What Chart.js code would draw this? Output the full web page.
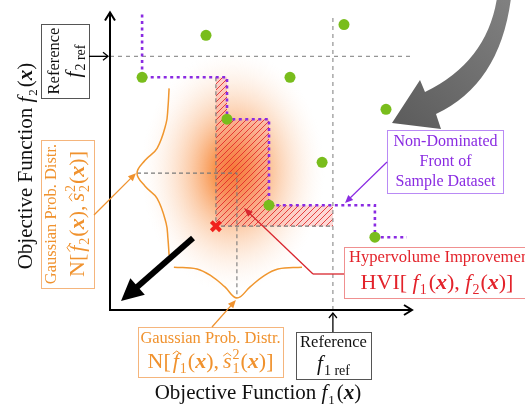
<!DOCTYPE html>
<html>
<head>
<meta charset="utf-8">
<script src="https://cdn.jsdelivr.net/npm/chart.js@4/dist/chart.umd.min.js"></script>
<style>
  html, body { margin: 0; padding: 0; background: #fff; overflow: hidden; }
  #wrap { position: relative; width: 525px; height: 404px; }
</style>
</head>
<body>
<div id="wrap"><canvas id="c"></canvas></div>
<script>
// Non-dominated front of the sample dataset (f1, f2)
const frontF1 = [1.07, 3.9, 5.3, 8.83];
const frontF2 = [7.77, 6.37, 3.5, 2.43];
// Dominated samples
const otherF1 = [3.2, 7.8, 6.0, 9.2, 7.07];
const otherF2 = [9.17, 9.53, 7.77, 6.7, 4.93];
// Reference point
const refF1 = 7.43;
const refF2 = 8.47;
// Candidate design and its predicted mean
const candF1 = 3.53;
const candF2 = 2.8;
const meanF1 = 4.23;
const meanF2 = 4.57;
// Predictive density of f2 (drawn along the f2 direction)
const densF2CurveF1 = [1.97, 1.93, 1.87, 1.57, 1.17, 0.9, 1.17, 1.57, 1.87, 1.93, 1.97];
const densF2CurveF2 = [7.4, 6.73, 6.23, 5.4, 5.0, 4.57, 4.13, 3.73, 2.9, 2.4, 1.83];
// Predictive density of f1 (drawn along the f1 direction)
const densF1CurveF1 = [2.13, 2.9, 3.43, 3.83, 4.23, 4.67, 5.07, 5.6, 6.4];
const densF1CurveF2 = [1.43, 1.37, 1.1, 0.77, 0.4, 0.77, 1.1, 1.37, 1.43];
// Extents of the front staircase and reference guides
const frontTop = 9.87, frontRight = 9.9;
const refLineF1End = 10.07, refLineF2End = 9.77;

const SERIF = '"Liberation Serif", "Times New Roman", serif';
const pts = (xs, ys) => xs.map((x, i) => ({ x, y: ys[i] }));

// Staircase through the non-dominated points
const stairs = [{ x: frontF1[0], y: frontTop }];
for (let i = 0; i < frontF1.length; i++) {
  stairs.push({ x: frontF1[i], y: frontF2[i] });
  stairs.push({ x: i < frontF1.length - 1 ? frontF1[i + 1] : frontRight, y: frontF2[i] });
}

// Region newly dominated by the candidate (bounded by the reference point)
const hvi = [{ x: candF1, y: frontF2[0] }];
let lastF2 = frontF2[0];
for (let i = 1; i < frontF1.length; i++) {
  if (frontF1[i] >= refF1) break;
  hvi.push({ x: frontF1[i], y: lastF2 });
  hvi.push({ x: frontF1[i], y: frontF2[i] });
  lastF2 = frontF2[i];
}
hvi.push({ x: refF1, y: lastF2 }, { x: refF1, y: candF2 }, { x: candF1, y: candF2 }, { x: candF1, y: frontF2[0] });

const peakF1 = Math.min(...densF2CurveF1);
const peakF2 = Math.min(...densF1CurveF2);

function hatchPattern(ctx) {
  const s = 6, c = document.createElement('canvas');
  c.width = s; c.height = s;
  const g = c.getContext('2d');
  g.fillStyle = 'rgba(250,130,120,0.30)';
  g.fillRect(0, 0, s, s);
  g.strokeStyle = 'rgba(226,40,40,0.85)';
  g.lineWidth = 1;
  g.beginPath();
  g.moveTo(0, s); g.lineTo(s, 0);
  g.moveTo(-1, 1); g.lineTo(1, -1);
  g.moveTo(s - 1, s + 1); g.lineTo(s + 1, s - 1);
  g.stroke();
  return ctx.createPattern(c, 'repeat');
}

// ---------- text helpers ----------
function measureRuns(ctx, runs) {
  let w = 0;
  for (const r of runs) {
    ctx.font = r.f;
    r._w = ctx.measureText(r.t).width;
    r._sw = 0;
    if (r.sub || r.sup) {
      ctx.font = r.sf;
      r._sw = Math.max(r.sub ? ctx.measureText(r.sub).width : 0, r.sup ? ctx.measureText(r.sup).width : 0) + 1;
    }
    w += r._w + r._sw + (r.gap || 0);
  }
  return w;
}
function drawRuns(ctx, runs, x, y, color, align) {
  const w = measureRuns(ctx, runs);
  let cx = align === 'left' ? x : x - w / 2;
  ctx.fillStyle = color; ctx.strokeStyle = color;
  ctx.textAlign = 'left'; ctx.textBaseline = 'alphabetic';
  for (const r of runs) {
    ctx.font = r.f;
    ctx.fillText(r.t, cx, y + (r.dy || 0));
    if (r.hat) {
      const hx = cx + r._w / 2 + (r.hatShift || 0), hy = y - r.hat;
      ctx.lineWidth = 1;
      ctx.beginPath();
      ctx.moveTo(hx - 4, hy + 3); ctx.lineTo(hx, hy); ctx.lineTo(hx + 4, hy + 3);
      ctx.stroke();
    }
    cx += r._w;
    if (r.sub || r.sup) {
      ctx.font = r.sf;
      if (r.sub) ctx.fillText(r.sub, cx + 1, y + r.subDy);
      if (r.sup) ctx.fillText(r.sup, cx + 1, y - r.supDy);
      cx += r._sw;
    }
    cx += (r.gap || 0);
  }
}
function drawRunsRot(ctx, runs, bx, cy, color) {
  ctx.save();
  ctx.translate(bx, cy);
  ctx.rotate(-Math.PI / 2);
  drawRuns(ctx, runs, 0, 0, color);
  ctx.restore();
}
function arrow(ctx, x1, y1, x2, y2, o) {
  const a = Math.atan2(y2 - y1, x2 - x1), L = o.head, W = o.headW / 2;
  ctx.save();
  ctx.strokeStyle = o.color; ctx.fillStyle = o.color; ctx.lineWidth = o.width;
  ctx.lineCap = 'butt';
  const bx = x2 - Math.cos(a) * L * (o.filled ? 0.8 : 0), by = y2 - Math.sin(a) * L * (o.filled ? 0.8 : 0);
  ctx.beginPath(); ctx.moveTo(x1, y1); ctx.lineTo(bx, by); ctx.stroke();
  const px = -Math.sin(a), py = Math.cos(a);
  const hx = x2 - Math.cos(a) * L, hy = y2 - Math.sin(a) * L;
  ctx.beginPath();
  ctx.moveTo(hx + px * W, hy + py * W);
  ctx.lineTo(x2, y2);
  ctx.lineTo(hx - px * W, hy - py * W);
  if (o.filled) { ctx.closePath(); ctx.fill(); } else { ctx.stroke(); }
  ctx.restore();
}
function box(ctx, x, y, w, h, stroke) {
  ctx.save();
  ctx.fillStyle = '#fff';
  ctx.fillRect(x, y, w, h);
  ctx.strokeStyle = stroke; ctx.lineWidth = 1;
  ctx.strokeRect(x + 0.5, y + 0.5, w, h);
  ctx.restore();
}

const R = s => `${s}px ${SERIF}`;
const I = s => `italic ${s}px ${SERIF}`;
const BI = s => `bold italic ${s}px ${SERIF}`;

function gaussLabel(k, s) {
  return [
    { t: 'N[', f: R(s), gap: 2 },
    { t: 'f', f: I(s), hat: 17, hatShift: 1, sub: k, sf: R(14), subDy: 5, gap: 1 },
    { t: '(', f: R(s) }, { t: 'x', f: BI(s) }, { t: '),', f: R(s), gap: 4 },
    { t: 's', f: I(s), hat: 15, sub: k, sup: '2', sf: R(14), subDy: 5, supDy: 9, gap: 1 },
    { t: '(', f: R(s) }, { t: 'x', f: BI(s) }, { t: ')]', f: R(s) }
  ];
}
function funcLabel(k, s, sub) {
  return [
    { t: 'f', f: I(s), sub: k, sf: R(sub), subDy: 5, gap: 2 },
    { t: '(', f: R(s) }, { t: 'x', f: BI(s) }, { t: ')', f: R(s) }
  ];
}

// Orange predictive cloud around the mean
const cloud = {
  id: 'cloud',
  beforeDatasetsDraw(chart) {
    const { ctx, scales: { x, y } } = chart;
    const cx = x.getPixelForValue(meanF1) - 4, cy = y.getPixelForValue(meanF2) - 2;
    ctx.save();
    ctx.translate(cx, cy);
    ctx.scale(1, 1.32);
    const r = 92;
    const g = ctx.createRadialGradient(0, 0, 0, 0, 0, r);
    g.addColorStop(0, 'rgba(244,108,16,0.95)');
    g.addColorStop(0.2, 'rgba(246,126,40,0.82)');
    g.addColorStop(0.45, 'rgba(249,160,95,0.55)');
    g.addColorStop(0.7, 'rgba(251,196,155,0.30)');
    g.addColorStop(0.88, 'rgba(253,222,200,0.12)');
    g.addColorStop(1, 'rgba(255,240,230,0)');
    ctx.fillStyle = g;
    ctx.beginPath(); ctx.arc(0, 0, r, 0, Math.PI * 2); ctx.fill();
    ctx.restore();
  }
};

// Axes, callouts and labels
const notes = {
  id: 'notes',
  afterDatasetsDraw(chart) {
    const { ctx, chartArea: a, scales: { x, y } } = chart;
    const X = v => x.getPixelForValue(v), Y = v => y.getPixelForValue(v);

    // axes
    arrow(ctx, a.left, a.bottom + 1, a.left, a.top + 2, { color: '#000', width: 2, head: 8, headW: 10 });
    arrow(ctx, a.left - 1, a.bottom, a.right + 2, a.bottom, { color: '#000', width: 2, head: 8, headW: 10 });

    // big black arrow
    arrow(ctx, 193, 238, 121, 301, { color: '#000', width: 6, head: 22, headW: 22, filled: true });

    // curved gray arrow
    ctx.save();
    const gg = ctx.createLinearGradient(505, 0, 395, 125);
    gg.addColorStop(0, '#808080'); gg.addColorStop(1, '#5c5c5c');
    ctx.fillStyle = gg;
    ctx.beginPath();
    ctx.moveTo(497, -2);
    ctx.quadraticCurveTo(487, 62, 425, 92);
    ctx.lineTo(420, 80);
    ctx.lineTo(392, 123);
    ctx.lineTo(441, 129);
    ctx.lineTo(436, 114);
    ctx.quadraticCurveTo(500, 84, 511, -2);
    ctx.closePath();
    ctx.fill();
    ctx.restore();

    // reference f2 box
    box(ctx, 41, 24, 48, 74, '#555');
    drawRunsRot(ctx, [{ t: 'Reference', f: R(16.5) }], 59, 61, '#111');
    drawRunsRot(ctx, [{ t: 'f', f: I(21), sub: '2 ref', sf: R(14), subDy: 5, gap: 0 }], 80, 61, '#111');
    arrow(ctx, 89, Y(refF2), a.left - 2, Y(refF2), { color: '#000', width: 1.3, head: 5, headW: 8 });

    // reference f1 box
    box(ctx, 296, 332, 75, 47, '#555');
    drawRuns(ctx, [{ t: 'Reference', f: R(16.5) }], 333.5, 347, '#111');
    drawRuns(ctx, [{ t: 'f', f: I(21), sub: '1 ref', sf: R(14), subDy: 5 }], 333.5, 370, '#111');
    arrow(ctx, X(refF1), 332, X(refF1), a.bottom + 3, { color: '#000', width: 1.3, head: 5, headW: 8 });

    // Gaussian callouts
    const orange = '#f0922e';
    box(ctx, 41, 140, 53, 148, '#f5b57c');
    drawRunsRot(ctx, [{ t: 'Gaussian Prob. Distr.', f: R(16.5) }], 56, 214, orange);
    drawRunsRot(ctx, gaussLabel('2', 22), 84, 214, orange);
    arrow(ctx, 94, 215, X(peakF1) - 1, Y(meanF2), { color: orange, width: 1.3, head: 8, headW: 7, filled: true });

    box(ctx, 138, 327, 145, 50, '#f5b57c');
    drawRuns(ctx, [{ t: 'Gaussian Prob. Distr.', f: R(16.5) }], 210.5, 343, orange);
    drawRuns(ctx, gaussLabel('1', 22), 210.5, 368, orange);
    arrow(ctx, 212, 327, X(meanF1) - 1, Y(peakF2) + 2, { color: orange, width: 1.3, head: 8, headW: 7, filled: true });

    // front callout
    const purple = '#8a2be2';
    box(ctx, 387, 130, 116, 63, '#b98af5');
    drawRuns(ctx, [{ t: 'Non-Dominated', f: R(16) }], 445.5, 146, purple);
    drawRuns(ctx, [{ t: 'Front of', f: R(16) }], 445.5, 166, purple);
    drawRuns(ctx, [{ t: 'Sample Dataset', f: R(16) }], 445.5, 186, purple);
    arrow(ctx, 387, 162, 345, 203, { color: purple, width: 1.2, head: 8, headW: 7, filled: true });

    // hypervolume callout
    const red = '#e3232b';
    box(ctx, 344, 247, 200, 51, '#f09090');
    drawRuns(ctx, [{ t: 'Hypervolume Improvement', f: R(16.6) }], 349, 262, red, 'left');
    drawRuns(ctx, [
      { t: 'HVI[ ', f: R(22) },
      { t: 'f', f: I(22), sub: '1', sf: R(14), subDy: 5, gap: 2 },
      { t: '(', f: R(22) }, { t: 'x', f: BI(22) }, { t: '), ', f: R(22) },
      { t: 'f', f: I(22), sub: '2', sf: R(14), subDy: 5, gap: 1 },
      { t: '(', f: R(22) }, { t: 'x', f: BI(22) }, { t: ')]', f: R(22) }
    ], 437, 289, red);
    ctx.save();
    ctx.strokeStyle = '#d8262e'; ctx.lineWidth = 1.3;
    ctx.beginPath(); ctx.moveTo(344, 274); ctx.lineTo(313, 274); ctx.stroke();
    ctx.restore();
    arrow(ctx, 313, 274, 244, 208, { color: '#d8262e', width: 1.3, head: 9, headW: 7, filled: true });

    // axis titles
    drawRuns(ctx, [{ t: 'Objective Function ', f: R(21) }].concat(funcLabel('1', 21, 13)), 258, 399, '#111');
    drawRunsRot(ctx, [{ t: 'Objective Function ', f: R(21) }].concat(funcLabel('2', 21, 13)), 32, 166, '#111');
  }
};

const ctx = document.getElementById('c').getContext('2d');
const dashGray = '#7a7a7a';

new Chart(ctx, {
  type: 'scatter',
  data: {
    datasets: [
      { label: 'candidate', data: [{ x: candF1, y: candF2 }], pointStyle: 'crossRot', pointRadius: 6.5,
        borderColor: '#f0201c', borderWidth: 4, backgroundColor: '#f0201c', order: 1 },
      { label: 'non-dominated', data: pts(frontF1, frontF2), pointRadius: 5.5, pointBorderWidth: 0,
        backgroundColor: '#79bd1c', borderColor: '#79bd1c', order: 2 },
      { label: 'dominated', data: pts(otherF1, otherF2), pointRadius: 5.5, pointBorderWidth: 0,
        backgroundColor: '#79bd1c', borderColor: '#79bd1c', order: 2 },
      { label: 'front', data: stairs, showLine: true, pointRadius: 0, borderColor: '#8a2be2',
        borderWidth: 2.6, borderDash: [3, 3.5], order: 3 },
      { label: 'density f2', data: pts(densF2CurveF1, densF2CurveF2), showLine: true, pointRadius: 0,
        borderColor: '#f0962e', borderWidth: 1.5, tension: 0.4, order: 4 },
      { label: 'density f1', data: pts(densF1CurveF1, densF1CurveF2), showLine: true, pointRadius: 0,
        borderColor: '#f0962e', borderWidth: 1.5, tension: 0.4, order: 4 },
      { label: 'candidate bounds', data: [{ x: candF1, y: frontF2[0] }, { x: candF1, y: candF2 }, { x: refF1, y: candF2 }],
        showLine: true, pointRadius: 0, borderColor: dashGray, borderWidth: 1.1, borderDash: [4, 3], order: 5 },
      { label: 'mean guides', data: [{ x: peakF1, y: meanF2 }, { x: meanF1, y: meanF2 }, { x: meanF1, y: peakF2 }],
        showLine: true, pointRadius: 0, borderColor: dashGray, borderWidth: 1.1, borderDash: [4, 3], order: 5 },
      { label: 'f2 ref', data: [{ x: 0, y: refF2 }, { x: refLineF1End, y: refF2 }],
        showLine: true, pointRadius: 0, borderColor: '#888', borderWidth: 1.1, borderDash: [4, 4], order: 6 },
      { label: 'f1 ref', data: [{ x: refF1, y: 0 }, { x: refF1, y: refLineF2End }],
        showLine: true, pointRadius: 0, borderColor: '#888', borderWidth: 1.1, borderDash: [4, 4], order: 6 },
      { label: 'HVI', data: hvi, showLine: true, pointRadius: 0, borderColor: 'rgba(0,0,0,0)',
        backgroundColor: hatchPattern(ctx), fill: 'shape', tension: 0, order: 7 }
    ]
  },
  options: {
    responsive: true,
    maintainAspectRatio: false,
    animation: false,
    events: [],
    layout: { padding: { left: 110, right: 115, top: 10, bottom: 94 } },
    scales: {
      x: { type: 'linear', min: 0, max: 10, display: false },
      y: { type: 'linear', min: 0, max: 10, display: false }
    },
    datasets: { scatter: { clip: false } },
    plugins: { legend: { display: false }, tooltip: { enabled: false } }
  },
  plugins: [cloud, notes]
});
</script>
</body>
</html>
